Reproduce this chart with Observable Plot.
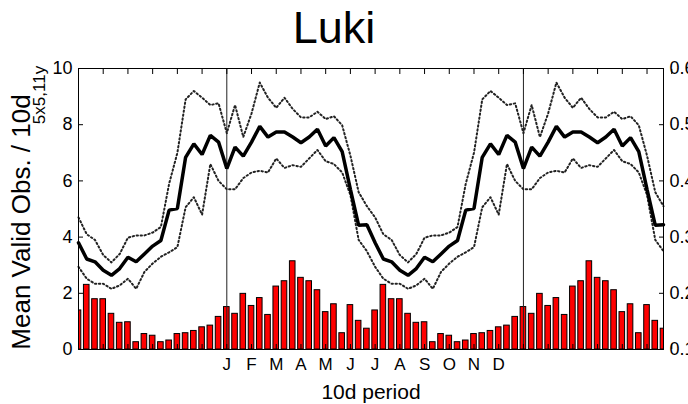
<!DOCTYPE html>
<html><head><meta charset="utf-8">
<script src="https://cdn.jsdelivr.net/npm/d3@7"></script>
<script src="https://cdn.jsdelivr.net/npm/@observablehq/plot@0.6"></script>
<style>body{margin:0;background:#fff}#chart{width:688px;height:404px;overflow:hidden}</style>
</head><body><div id="chart"></div>
<script>
const title = "Luki";
const yLabel = "Mean Valid Obs. / 10d";
const ySubLabel = "5x5,11y";
const xLabel = "10d period";
const monthLabels = ["J","F","M","A","M","J","J","A","S","O","N","D"];
const rightTicks = [0.1,0.2,0.3,0.4,0.5,0.6];
const leftTicks = [0,2,4,6,8,10];

// 36 dekads, Jan dekad 1 ... Dec dekad 3
const validObs = [1.51,1.27,1.98, 1.55,1.83,1.23, 2.24,2.43,3.14, 2.55,2.43,2.11,
                  1.33,1.61,0.58, 1.58,1.02,0.74, 1.39,2.30,1.79, 1.79,1.27,0.95,
                  0.97,0.26,0.55, 0.49,0.26,0.32, 0.55,0.58,0.66, 0.79,0.85,1.16];
const ndviMean  = [0.422,0.460,0.444, 0.469,0.497,0.478, 0.487,0.487,0.478, 0.468,0.478,0.492,
                   0.462,0.477,0.452, 0.385,0.321,0.322, 0.290,0.261,0.256, 0.241,0.232,0.244,
                   0.264,0.256,0.270, 0.284,0.294,0.348, 0.351,0.442,0.466, 0.447,0.481,0.469];
const ndviUpper = [0.485,0.535,0.478, 0.520,0.575,0.548, 0.530,0.548,0.528, 0.513,0.513,0.523,
                   0.510,0.515,0.499, 0.445,0.380,0.355, 0.335,0.305,0.295, 0.268,0.255,0.270,
                   0.299,0.303,0.303, 0.308,0.318,0.395, 0.450,0.545,0.560, 0.548,0.535,0.538];
const ndviLower = [0.385,0.385,0.405, 0.415,0.418,0.415, 0.440,0.423,0.428, 0.425,0.440,0.455,
                   0.435,0.430,0.415, 0.375,0.295,0.275, 0.247,0.226,0.217, 0.217,0.208,0.214,
                   0.226,0.208,0.238, 0.253,0.265,0.273, 0.282,0.353,0.371, 0.340,0.430,0.400];

const firstDekad = 18;   // display starts with July dekad 1
const nShown = 72;       // Jul..Dec, Jan..Dec, Jan..Jun
const rows = d3.range(nShown).map(i => {
  const d = (i + firstDekad) % 36;
  return {i, obs: validObs[d], mean: ndviMean[d], hi: ndviUpper[d], lo: ndviLower[d]};
});
const toLeft = v => (v - 0.1) * 20;
const monthTicks = d3.range(0, nShown + 1, 3);
const janIdx = [18, 54];
const labelTicks = d3.range(18, 54, 3);

const font = "'Liberation Sans', Arial, Helvetica, sans-serif";
const chart = Plot.plot({
  width: 688, height: 404,
  marginLeft: 78, marginRight: 25, marginTop: 68, marginBottom: 55,
  x: {domain: [0, 71], axis: null},
  y: {domain: [0, 10], axis: null},
  style: {fontFamily: font, background: "white", color: "#000"},
  marks: [
    Plot.rectY(rows, {x1: d => d.i - 0.34, x2: d => d.i + 0.34, y: "obs", fill: "#ff0000", stroke: "#000", strokeWidth: 1, clip: true}),
    Plot.ruleX(janIdx, {stroke: "#222", strokeWidth: 1}),
    Plot.line(rows, {x: "i", y: d => toLeft(d.hi), stroke: "#222", strokeWidth: 2, strokeDasharray: "1.4,2.6"}),
    Plot.line(rows, {x: "i", y: d => toLeft(d.lo), stroke: "#222", strokeWidth: 2, strokeDasharray: "1.4,2.6"}),
    Plot.line(rows, {x: "i", y: d => toLeft(d.mean), stroke: "#000", strokeWidth: 3.5, strokeLinejoin: "miter"}),
    Plot.frame({stroke: "#000", strokeWidth: 1}),
    Plot.axisY(leftTicks, {anchor: "left", tickSize: -5, tickFormat: () => "", label: null}),
    Plot.axisY(leftTicks, {anchor: "left", tickSize: 0, tickPadding: 6, fontSize: 18, label: null}),
    Plot.axisY(rightTicks.map(toLeft), {anchor: "right", tickSize: -5, tickFormat: () => "", label: null}),
    Plot.axisY(rightTicks.map(toLeft), {anchor: "right", tickSize: 0, tickPadding: 6, fontSize: 18, tickFormat: v => (0.1 + v / 20).toFixed(1), label: null}),
    Plot.axisX(monthTicks, {anchor: "top", tickSize: -5, tickFormat: () => "", label: null}),
    Plot.axisX(monthTicks, {anchor: "bottom", tickSize: -5, tickFormat: () => "", label: null}),
    Plot.axisX(labelTicks, {anchor: "bottom", tickSize: 0, tickPadding: 8, fontSize: 17, tickFormat: v => monthLabels[(v - 18) / 3], label: null}),
    Plot.text([title], {frameAnchor: "top", lineAnchor: "top", dx: -37, dy: -57, fontSize: 45}),
    Plot.text([yLabel], {frameAnchor: "left", textAnchor: "middle", lineAnchor: "middle", rotate: -90, dx: -57, dy: 13, fontSize: 26}),
    Plot.text([ySubLabel], {frameAnchor: "left", textAnchor: "middle", lineAnchor: "middle", rotate: -90, dx: -39, dy: -114, fontSize: 17}),
    Plot.text([xLabel], {frameAnchor: "bottom", lineAnchor: "bottom", dy: 49, fontSize: 21})
  ]
});
document.getElementById("chart").appendChild(chart);
</script></body></html>
